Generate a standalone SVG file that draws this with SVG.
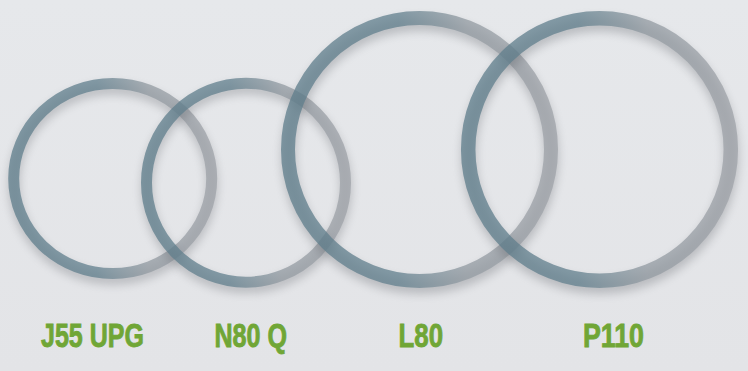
<svg xmlns="http://www.w3.org/2000/svg" width="748" height="371" viewBox="0 0 748 371">
<defs>
<linearGradient id="bg" x1="0" y1="0" x2="0" y2="1">
<stop offset="0" stop-color="#e6e8eb"/>
<stop offset="1" stop-color="#e3e4e7"/>
</linearGradient>
<linearGradient id="ringGrad" x1="0" y1="0" x2="1" y2="0">
<stop offset="0" stop-color="#5f7e8c"/>
<stop offset="0.42" stop-color="#62808e"/>
<stop offset="0.68" stop-color="#939ba2"/>
<stop offset="1" stop-color="#9ea2a8"/>
</linearGradient>
<filter id="shadow" x="-20%" y="-20%" width="140%" height="140%">
<feGaussianBlur stdDeviation="5"/>
</filter>
<style>
.ring{fill:none;stroke:url(#ringGrad);opacity:0.75}
.shade{fill:none;stroke:#55595e;opacity:0.3;filter:url(#shadow)}
.label{font-family:"Liberation Sans Narrow","Liberation Sans",Arial,sans-serif;font-weight:bold;font-size:34px;fill:#70a636;stroke:#70a636;stroke-width:0.9}
</style>
</defs>
<rect x="0" y="0" width="748" height="371" fill="url(#bg)"/>
<g id="ring-j55">
<ellipse class="shade" cx="113" cy="184" rx="99" ry="95" stroke-width="11"/>
<ellipse class="ring" cx="112.7" cy="178.5" rx="99" ry="95" stroke-width="11"/>
</g>
<g id="ring-n80">
<circle class="shade" cx="246.5" cy="188" r="99.5" stroke-width="11"/>
<circle class="ring" cx="246" cy="182.7" r="99.5" stroke-width="11"/>
</g>
<g id="ring-l80">
<circle class="shade" cx="420" cy="155.5" r="131.5" stroke-width="14"/>
<circle class="ring" cx="419.5" cy="149.5" r="131.5" stroke-width="14"/>
</g>
<g id="ring-p110">
<circle class="shade" cx="600" cy="155.5" r="131.3" stroke-width="14.5"/>
<circle class="ring" cx="599.5" cy="149.5" r="131.3" stroke-width="14.5"/>
</g>
<g id="labels">
<text class="label" x="41" y="347" textLength="103" lengthAdjust="spacingAndGlyphs">J55 UPG</text>
<text class="label" x="214.5" y="347" textLength="72.5" lengthAdjust="spacingAndGlyphs">N80 Q</text>
<text class="label" x="398.5" y="347" textLength="44.5" lengthAdjust="spacingAndGlyphs">L80</text>
<text class="label" x="583" y="347" textLength="61" lengthAdjust="spacingAndGlyphs">P110</text>
</g>
<g id="connectors"/>
</svg>
